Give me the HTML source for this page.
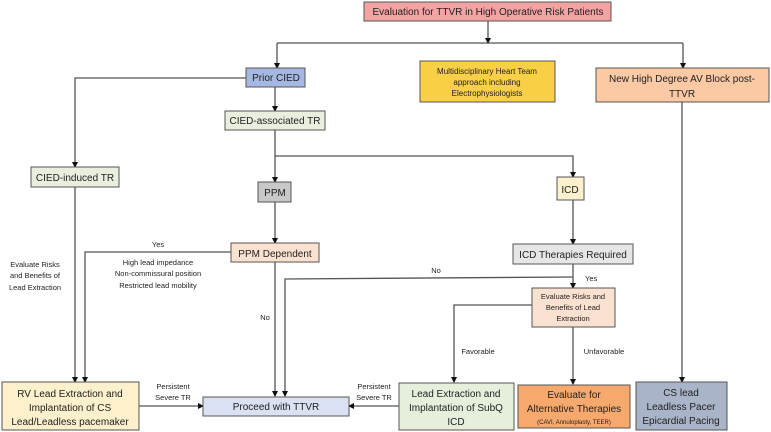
<!DOCTYPE html>
<html><head><meta charset="utf-8"><style>
html,body{margin:0;padding:0;background:#fff;}
svg{display:block;font-family:"Liberation Sans",sans-serif;}
text{fill:#222;}
</style></head><body>
<svg width="771" height="432" viewBox="0 0 771 432" xmlns="http://www.w3.org/2000/svg">
<defs><marker id="a" markerWidth="6" markerHeight="6" refX="5" refY="3" orient="auto" markerUnits="userSpaceOnUse"><path d="M0,0 L6,3 L0,6 z" fill="#111"/></marker></defs>
<g stroke="#555" stroke-width="1.3" fill="none">
<path d="M488,21 V43" marker-end="url(#a)"/>
<path d="M277,43 H683"/>
<path d="M277,43 V68" marker-end="url(#a)"/>
<path d="M683,43 V68" marker-end="url(#a)"/>
<path d="M246,78 H75 V167" marker-end="url(#a)"/>
<path d="M275,87 V111" marker-end="url(#a)"/>
<path d="M275,130 V182" marker-end="url(#a)"/>
<path d="M275,156 H573 V177" marker-end="url(#a)"/>
<path d="M275,202 V243" marker-end="url(#a)"/>
<path d="M573,200 V244" marker-end="url(#a)"/>
<path d="M231,252 H85 V382" marker-end="url(#a)"/>
<path d="M75,187 V382" marker-end="url(#a)"/>
<path d="M275,262 V396" marker-end="url(#a)"/>
<path d="M573,277 L285,279 V396" marker-end="url(#a)"/>
<path d="M573,264 V288" marker-end="url(#a)"/>
<path d="M532,305 H454 V382" marker-end="url(#a)"/>
<path d="M573,327 V384" marker-end="url(#a)"/>
<path d="M682,102 V382" marker-end="url(#a)"/>
<path d="M139,406 H203" marker-end="url(#a)"/>
<path d="M399,406 H349" marker-end="url(#a)"/>
</g>
<g stroke="#555" stroke-width="1">
<rect x="364" y="2" width="247" height="19" fill="#f4a3a3"/>
<rect x="246" y="68" width="59" height="19" fill="#a4b8e2"/>
<rect x="225" y="111" width="100" height="19" fill="#e9efdf"/>
<rect x="31" y="167" width="88" height="20" fill="#e9efdf"/>
<rect x="258" y="182" width="33" height="20" fill="#c8c8c8"/>
<rect x="420" y="61" width="135" height="41" fill="#f9cf48"/>
<rect x="596" y="68" width="173" height="34" fill="#fbc9a4"/>
<rect x="557" y="177" width="27" height="23" fill="#fdf0cc"/>
<rect x="231" y="243" width="88" height="19" fill="#fbe2d0"/>
<rect x="513" y="244" width="120" height="20" fill="#e6e6e6"/>
<rect x="532" y="288" width="83" height="39" fill="#fbe2d0"/>
<rect x="2" y="382" width="137" height="48" fill="#fdf0cc"/>
<rect x="203" y="397" width="146" height="19" fill="#dae1f3"/>
<rect x="399" y="383" width="115" height="47" fill="#e6eedc"/>
<rect x="518" y="385" width="112" height="43" fill="#f7a86c"/>
<rect x="636" y="382" width="91" height="48" fill="#a9b4c8"/>
</g>
<g text-anchor="middle" font-size="10">
<text x="488" y="15">Evaluation for TTVR in High Operative Risk Patients</text>
<text x="276" y="81">Prior CIED</text>
<text x="275" y="124">CIED-associated TR</text>
<text x="75" y="181">CIED-induced TR</text>
<text x="275" y="196">PPM</text>
<text x="570" y="193">ICD</text>
<text x="487" y="74" font-size="8">Multidisciplinary Heart Team</text>
<text x="487" y="85" font-size="8">approach including</text>
<text x="487" y="96" font-size="8">Electrophysiologists</text>
<text x="682" y="82">New High Degree AV Block post-</text>
<text x="682" y="97">TTVR</text>
<text x="275" y="257">PPM Dependent</text>
<text x="573" y="258">ICD Therapies Required</text>
<text x="573" y="299" font-size="7.5">Evaluate Risks and</text>
<text x="573" y="310" font-size="7.5">Benefits of Lead</text>
<text x="573" y="321" font-size="7.5">Extraction</text>
<text x="70" y="397">RV Lead Extraction and</text>
<text x="70" y="411">Implantation of CS</text>
<text x="70" y="425">Lead/Leadless pacemaker</text>
<text x="276" y="410">Proceed with TTVR</text>
<text x="456" y="397">Lead Extraction and</text>
<text x="456" y="411">Implantation of SubQ</text>
<text x="456" y="425">ICD</text>
<text x="574" y="398">Evaluate for</text>
<text x="574" y="412">Alternative Therapies</text>
<text x="574" y="424" font-size="6">(CAVI, Annuloplasty, TEER)</text>
<text x="681" y="396">CS lead</text>
<text x="681" y="410">Leadless Pacer</text>
<text x="681" y="424">Epicardial Pacing</text>
</g>
<g text-anchor="middle" font-size="7.5">
<text x="158" y="247">Yes</text>
<text x="158" y="265">High lead impedance</text>
<text x="158" y="276">Non-commissural position</text>
<text x="158" y="288">Restricted lead mobility</text>
<text x="35" y="267">Evaluate Risks</text>
<text x="35" y="278">and Benefits of</text>
<text x="35" y="290">Lead Extraction</text>
<text x="265" y="320">No</text>
<text x="436" y="273">No</text>
<text x="585" y="281" text-anchor="start">Yes</text>
<text x="478" y="354">Favorable</text>
<text x="604" y="354">Unfavorable</text>
<text x="173" y="389">Persistent</text>
<text x="173" y="400">Severe TR</text>
<text x="374" y="389">Persistent</text>
<text x="374" y="400">Severe TR</text>
</g>
</svg>
</body></html>
